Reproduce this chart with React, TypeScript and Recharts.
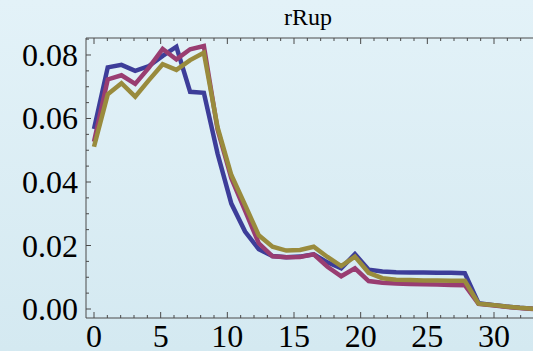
import {LineChart, Line, XAxis, YAxis} from 'recharts'
import {JSX} from 'react'

// x positions of the samples
const xs = [0, 1.03, 2.06, 3.09, 4.12, 5.15, 6.18, 7.21, 8.24, 9.27, 10.3, 11.33, 12.36, 13.39, 14.42, 15.45, 16.48,
	17.51, 18.54, 19.57, 20.6, 21.63, 22.66, 23.69, 24.72, 25.75, 26.78, 27.81, 28.84, 29.87, 30.9, 31.93, 32.96]

const blue = [0.0567, 0.0761, 0.0769, 0.0750, 0.0765, 0.0797, 0.0826, 0.0684, 0.0681, 0.0489, 0.0332, 0.0244, 0.0188,
	0.0167, 0.0163, 0.0165, 0.0172, 0.0147, 0.0128, 0.0173, 0.0124, 0.0118, 0.0116, 0.0115, 0.0115, 0.0114, 0.0114,
	0.0113, 0.0018, 0.0013, 0.0008, 0.0004, 0.0001]
const magenta = [0.0527, 0.0723, 0.0736, 0.0709, 0.0760, 0.0819, 0.0786, 0.0818, 0.0828, 0.0565, 0.0412, 0.0310, 0.0207,
	0.0166, 0.0163, 0.0164, 0.0172, 0.0133, 0.0103, 0.0128, 0.0088, 0.0083, 0.0080, 0.0079, 0.0078, 0.0077, 0.0076,
	0.0075, 0.0016, 0.0012, 0.0007, 0.0003, 0.0000]
const olive = [0.0511, 0.0676, 0.0711, 0.0669, 0.0721, 0.0771, 0.0753, 0.0784, 0.0807, 0.0572, 0.0422, 0.0328, 0.0232,
	0.0196, 0.0184, 0.0186, 0.0196, 0.0164, 0.0135, 0.0165, 0.0114, 0.0097, 0.0092, 0.0091, 0.0090, 0.0090, 0.0089,
	0.0089, 0.0017, 0.0013, 0.0008, 0.0004, 0.0001]

const xTicks = [0, 1, 2, 3, 4, 5, 6, 7, 8, 9, 10, 11, 12, 13, 14, 15, 16, 17, 18, 19, 20, 21, 22, 23, 24, 25, 26, 27,
	28, 29, 30, 31, 32, 33]
const yTicks = [0, 0.005, 0.01, 0.015, 0.02, 0.025, 0.03, 0.035, 0.04, 0.045, 0.05, 0.055, 0.06, 0.065, 0.07, 0.075,
	0.08, 0.085]

const data = xs.map((x, i) => ({x, a: blue[i], b: magenta[i], c: olive[i]}))

const FONT = '"Liberation Serif", "DejaVu Serif", serif'
const AXIS = '#4a4a4a'

const isMajorX = (v: number) => v % 5 === 0
const isMajorY = (v: number) => Math.abs(v / 0.02 - Math.round(v / 0.02)) < 1e-6

const labelStyle = {fontFamily: FONT, fontSize: 32, fill: '#000'}

const BottomTick = (props: any) => {
	const {x, y, payload} = props
	const major = isMajorX(payload.value)
	return (
		<g>
			<line x1={x} x2={x} y1={y} y2={y - (major ? 6 : 3)} stroke={AXIS} strokeWidth={1} />
			{major && (
				<text x={x} y={y + 29} textAnchor="middle" style={labelStyle}>
					{payload.value}
				</text>
			)}
		</g>
	)
}

const TopTick = (props: any) => {
	const {x, y, payload} = props
	const major = isMajorX(payload.value)
	return <line x1={x} x2={x} y1={y} y2={y + (major ? 6 : 3)} stroke={AXIS} strokeWidth={1} />
}

const LeftTick = (props: any) => {
	const {x, y, payload} = props
	const major = isMajorY(payload.value)
	return (
		<g>
			<line x1={x} x2={x + (major ? 5 : 3)} y1={y} y2={y} stroke={AXIS} strokeWidth={1} />
			{major && (
				<text x={x - 8} y={y + 11} textAnchor="end" style={labelStyle}>
					{payload.value.toFixed(2)}
				</text>
			)}
		</g>
	)
}

const App = (): JSX.Element => {
	return (
		<div
			style={{
				position: 'absolute',
				left: 0,
				top: 0,
				width: 533,
				height: 351,
				overflow: 'hidden',
				background: 'linear-gradient(#e3f2f8, #d4e9f1)',
			}}
		>
			<div
				style={{
					position: 'absolute',
					left: 258,
					width: 100,
					top: 4,
					textAlign: 'center',
					fontFamily: FONT,
					fontSize: 24,
					color: '#000',
				}}
			>
				rRup
			</div>
			<LineChart width={560} height={351} data={data} margin={{top: 0, right: 20, bottom: 0, left: 0}}>
				<XAxis
					dataKey="x"
					type="number"
					domain={[-0.6, 33.45]}
					ticks={xTicks}
					interval={0}
					tickSize={0}
					tickMargin={0}
					height={33}
					stroke={AXIS}
					tick={<BottomTick />}
				/>
				<XAxis
					xAxisId="top"
					orientation="top"
					dataKey="x"
					type="number"
					domain={[-0.6, 33.45]}
					ticks={xTicks}
					interval={0}
					tickSize={0}
					tickMargin={0}
					height={38}
					stroke={AXIS}
					tick={<TopTick />}
				/>
				<YAxis
					type="number"
					domain={[-0.00283, 0.08535]}
					ticks={yTicks}
					interval={0}
					tickSize={0}
					tickMargin={0}
					width={86}
					stroke={AXIS}
					tick={<LeftTick />}
				/>
				<Line type="linear" dataKey="a" stroke="#3d3d99" strokeWidth={4.5} dot={false} isAnimationActive={false} />
				<Line type="linear" dataKey="b" stroke="#993d71" strokeWidth={4.5} dot={false} isAnimationActive={false} />
				<Line type="linear" dataKey="c" stroke="#998b3d" strokeWidth={4.5} dot={false} isAnimationActive={false} />
			</LineChart>
		</div>
	)
}

export default App
